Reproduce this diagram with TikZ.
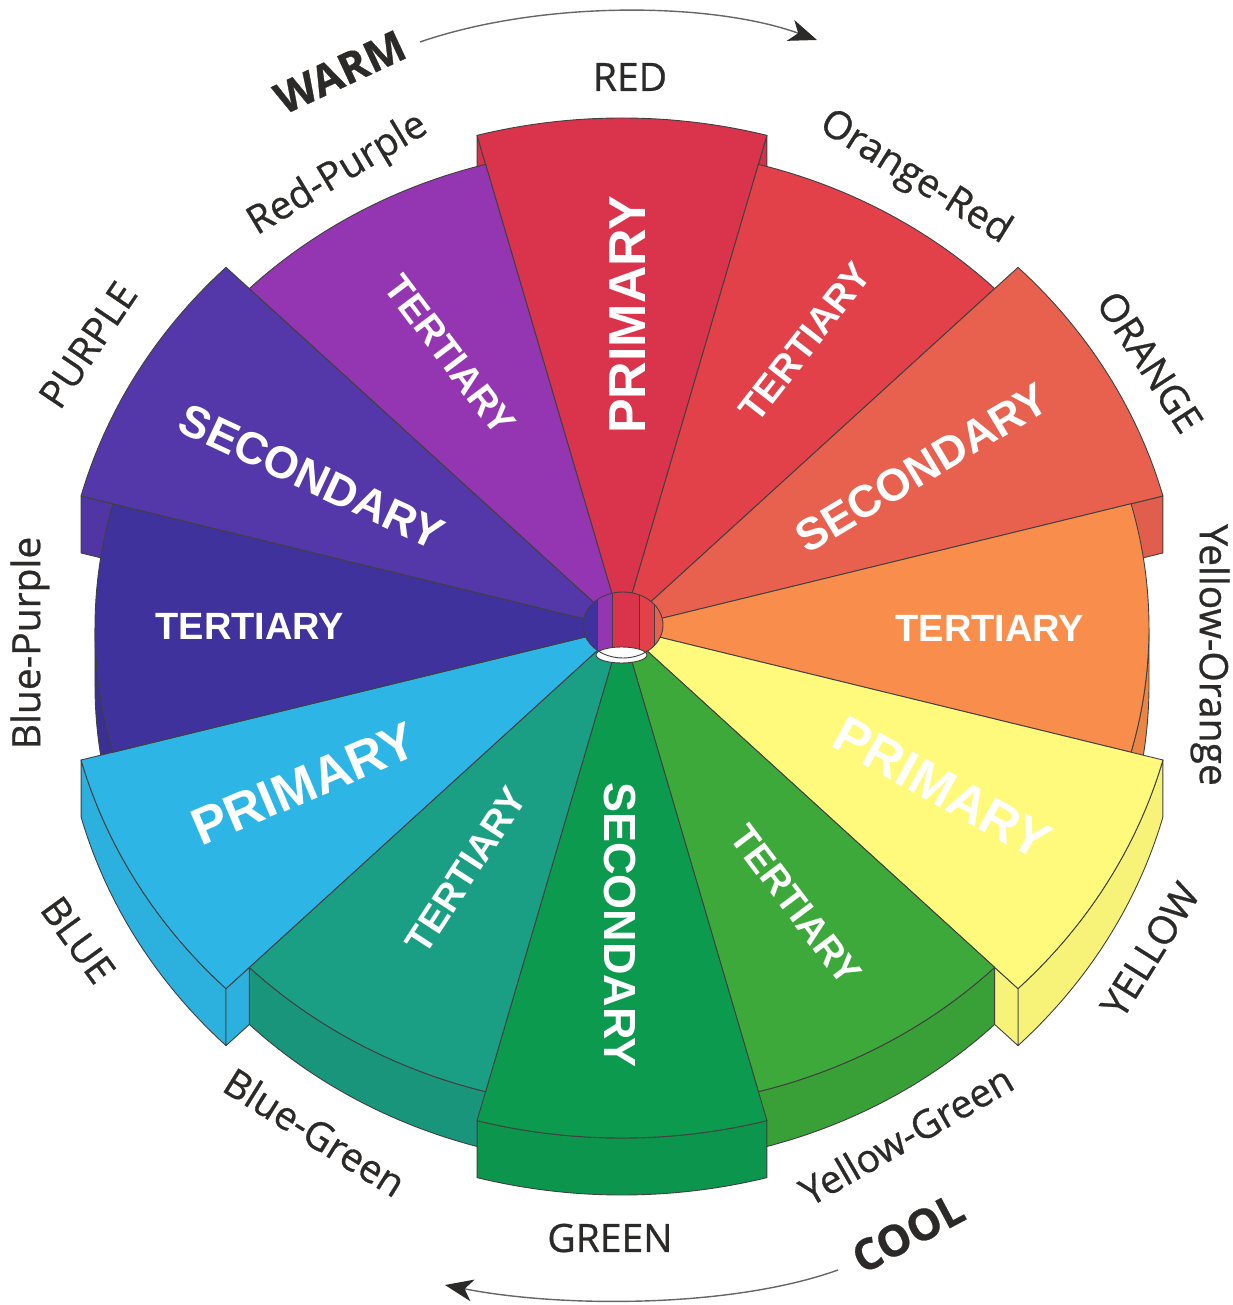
\documentclass[tikz,border=0pt]{standalone}
\usepackage{fontspec}
\setmainfont{Open Sans}[FakeBold=0.7]
\newfontfamily\wedgefont{Liberation Sans}
\usetikzlibrary{arrows.meta}

\definecolor{wred}{HTML}{D9344C}
\definecolor{worangered}{HTML}{E2414A}
\definecolor{worange}{HTML}{E8604E}
\definecolor{wyelloworange}{HTML}{F98D4B}
\definecolor{wyellow}{HTML}{FFF97C}
\definecolor{wyellowgreen}{HTML}{3DA93A}
\definecolor{wgreen}{HTML}{0C9A4E}
\definecolor{wbluegreen}{HTML}{1B9F84}
\definecolor{wblue}{HTML}{2DB5E5}
\definecolor{wbluepurple}{HTML}{3F329C}
\definecolor{wpurple}{HTML}{5437A9}
\definecolor{wredpurple}{HTML}{9436B2}
\definecolor{ink}{HTML}{2B2A29}

\begin{document}
\begin{tikzpicture}[x=1pt, y=1pt,
  edge/.style={draw=black!75, line width=0.9pt, line join=round},
  primlabel/.style={text=white, font=\wedgefont\bfseries\fontsize{52}{52}\selectfont},
  seclabel/.style={text=white, font=\wedgefont\bfseries\fontsize{45}{45}\selectfont},
  terlabel/.style={text=white, font=\wedgefont\bfseries\fontsize{38}{38}\selectfont},
  outer/.style={text=ink, font=\fontsize{39}{40}\selectfont},
  heat/.style={text=ink, font=\bfseries\fontsize{43}{44}\selectfont},
  sweep/.style={draw=black!60, line width=1.4pt, -{Stealth[length=28pt, width=22pt, inset=8pt, color=ink]}}]
  \useasboundingbox (-622,-677) rectangle (610,628);

  \foreach \a/\b/\c in {345/360/wyelloworange, 285/315/wyellowgreen, 225/255/wbluegreen, 180/195/wbluepurple}
    \filldraw[edge, fill=\c!94!black] ({527*cos(\a)},{480*sin(\a)}) arc[start angle=\a, end angle=\b, x radius=527, y radius=480] -- ++(0,-57) arc[start angle=\b, end angle=\a, x radius=527, y radius=480] -- cycle;
  \foreach \a/\b/\c in {315/345/wyellow, 255/285/wgreen, 195/225/wblue}
    \filldraw[edge, fill=\c!97!black] ({560*cos(\a)},{510*sin(\a)}) arc[start angle=\a, end angle=\b, x radius=560, y radius=510] -- ++(0,-57) arc[start angle=\b, end angle=\a, x radius=560, y radius=510] -- cycle;
  \foreach \a/\c in {75/wred, 105/wred, 15/worange, 315/wyellow, 225/wblue, 165/wpurple}
    \filldraw[edge, fill=\c!97!black] ({527*cos(\a)},{480*sin(\a)}) -- ({560*cos(\a)},{510*sin(\a)}) -- ++(0,-57) -- ({527*cos(\a)},{480*sin(\a)-57}) -- cycle;

  \foreach \a/\b/\r/\s/\c in {75/105/560/510/wred, 45/75/527/480/worangered, 15/45/560/510/worange,
      -15/15/527/480/wyelloworange, -45/-15/560/510/wyellow, -75/-45/527/480/wyellowgreen,
      -105/-75/560/510/wgreen, -135/-105/527/480/wbluegreen, -165/-135/560/510/wblue,
      165/195/527/480/wbluepurple, 135/165/560/510/wpurple, 105/135/527/480/wredpurple}
    \filldraw[edge, fill=\c] (0,0) -- ({\r*cos(\a)},{\s*sin(\a)}) arc[start angle=\a, end angle=\b, x radius=\r, y radius=\s] -- cycle;

  \begin{scope}
    \clip (1,3) ellipse[x radius=40, y radius=33];
    \fill[wbluepurple] (-40,-40) rectangle (-25,40);
    \fill[wredpurple] (-25,-40) rectangle (-10,40);
    \fill[wred] (-10,-40) rectangle (17,40);
    \fill[worangered] (17,-40) rectangle (32,40);
    \fill[worange] (32,-40) rectangle (42,40);
    \foreach \x in {-25,-10,17,32}
      \draw[edge] (\x,-40) -- (\x,40);
  \end{scope}
  \filldraw[edge, fill=white] (-0.5,-27) ellipse[x radius=25.5, y radius=8];
  \draw[edge] (1,3) ellipse[x radius=40, y radius=33];

  \node[primlabel, rotate=90] (redtype) at (6,313) {PRIMARY};
  \node[terlabel, rotate=52] (orangeredtype) at (183,286) {TERTIARY};
  \node[seclabel, rotate=31] (orangetype) at (300,160) {SECONDARY};
  \node[terlabel] (yelloworangetype) at (368,0) {TERTIARY};
  \node[primlabel, rotate=-29] (yellowtype) at (320,-160) {PRIMARY};
  \node[terlabel, rotate=-53] (yellowgreentype) at (174,-277) {TERTIARY};
  \node[seclabel, rotate=-90] (greentype) at (-2,-297) {SECONDARY};
  \node[terlabel, rotate=57] (bluegreentype) at (-156,-242) {TERTIARY};
  \node[primlabel, rotate=23] (bluetype) at (-318,-156) {PRIMARY};
  \node[terlabel] (bluepurpletype) at (-372,2) {TERTIARY};
  \node[seclabel, rotate=-25] (purpletype) at (-310,151) {SECONDARY};
  \node[terlabel, rotate=-53] (redpurpletype) at (-172,273) {TERTIARY};

  \node[outer] (red) at (8,551) {RED};
  \node[outer, rotate=-32] (orangered) at (293,450) {Orange-Red};
  \node[outer, rotate=-57] (orange) at (528,266) {ORANGE};
  \node[outer, rotate=-90] (yelloworange) at (588,-27) {Yellow-Orange};
  \node[outer, rotate=58] (yellow) at (528,-322) {YELLOW};
  \node[outer, rotate=30] (yellowgreen) at (284,-507) {Yellow-Green};
  \node[outer] (green) at (-12,-610) {GREEN};
  \node[outer, rotate=-32] (bluegreen) at (-307,-504) {Blue-Green};
  \node[outer, rotate=-54] (blue) at (-544,-312) {BLUE};
  \node[outer, rotate=90] (bluepurple) at (-592,-15) {Blue-Purple};
  \node[outer, rotate=56] (purple) at (-534,283) {PURPLE};
  \node[outer, rotate=31] (redpurple) at (-284,453) {Red-Purple};

  \node[heat, rotate=25] (warm) at (-282,556) {WARM};
  \node[heat, rotate=28] (cool) at (286,-605) {COOL};
  \coordinate (warmfrom) at (-202,586);
  \coordinate (warmto) at (195,588);
  \coordinate (coolfrom) at (216,-642);
  \coordinate (coolto) at (-177,-657);
  \draw[sweep] (warmfrom) .. controls (-80,628) and (90,626) .. (warmto);
  \draw[sweep] (coolfrom) .. controls (110,-680) and (-60,-680) .. (coolto);
\end{tikzpicture}
\end{document}
